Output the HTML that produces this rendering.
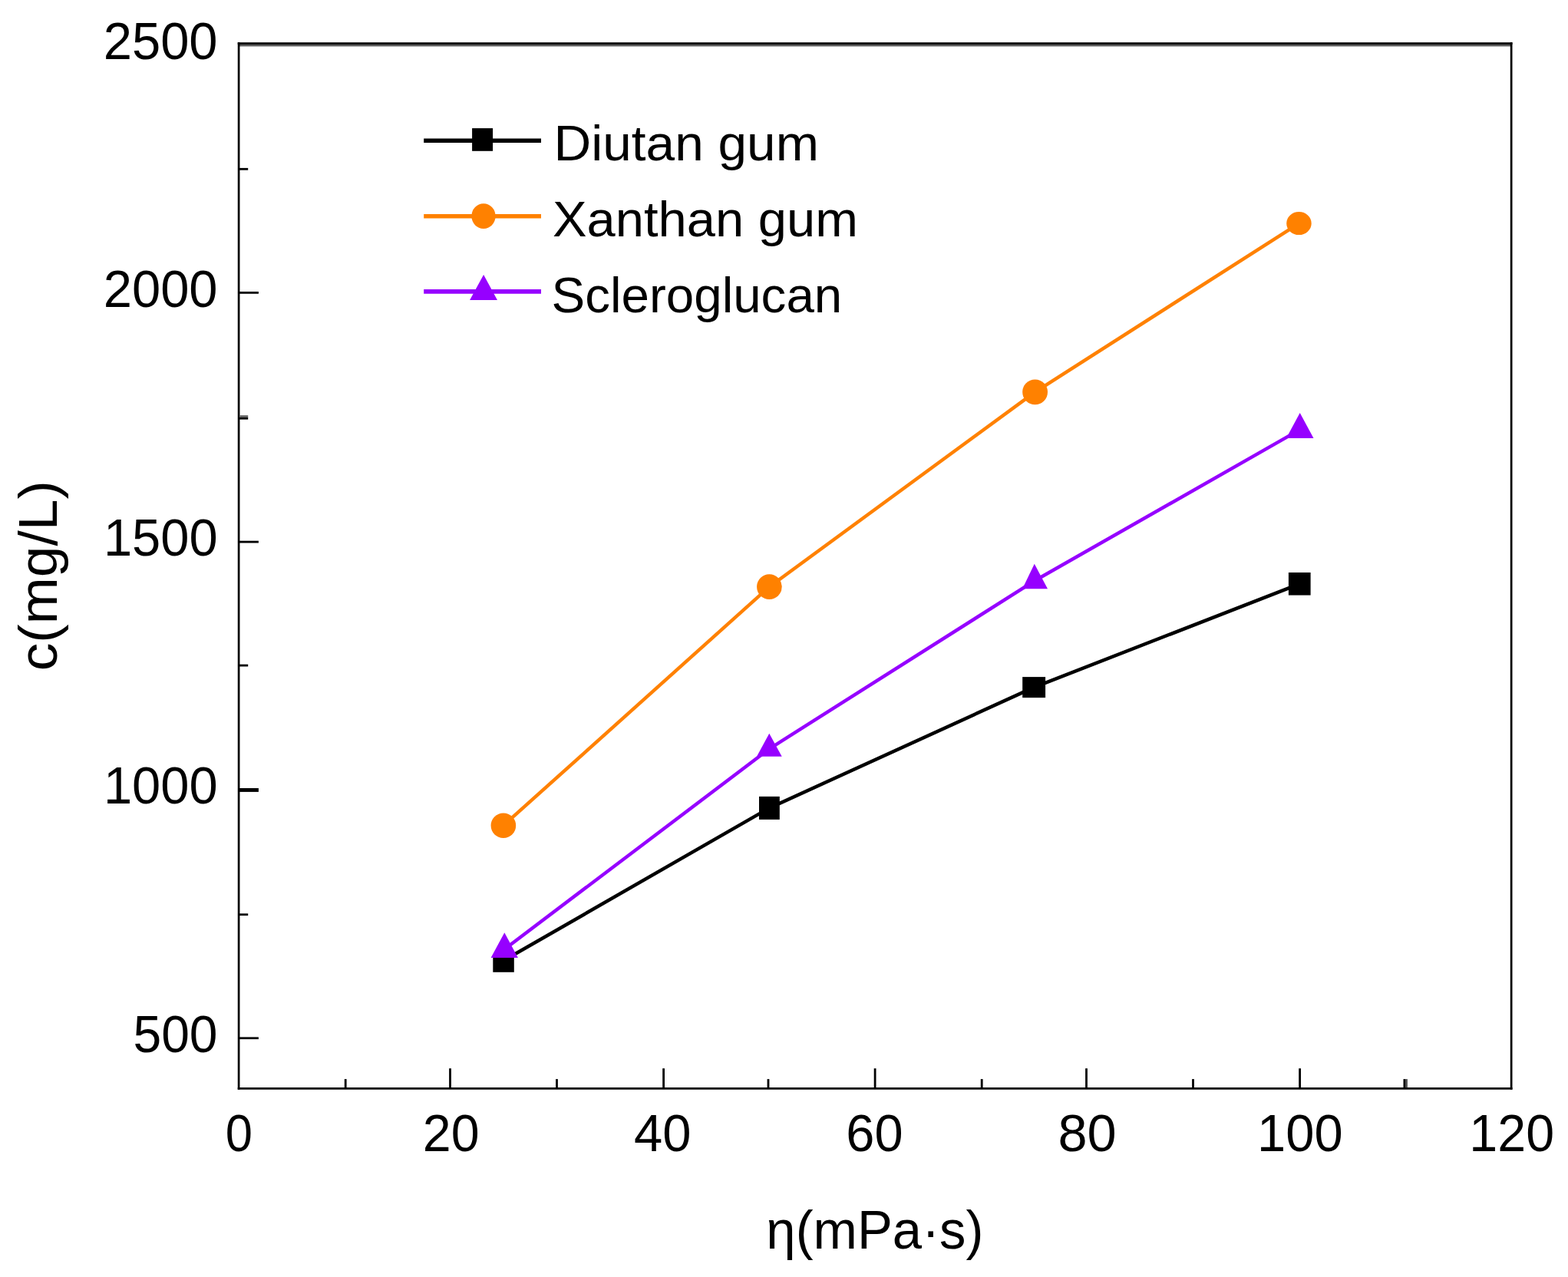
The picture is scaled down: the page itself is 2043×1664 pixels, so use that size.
<!DOCTYPE html>
<html lang="en">
<head>
<meta charset="utf-8">
<title>c (mg/L) versus η (mPa·s)</title>
<style>
html, body { margin: 0; padding: 0; background: #ffffff; }
body { width: 2043px; height: 1664px; overflow: hidden; }
svg { display: block; }
</style>
</head>
<body>
<svg width="2043" height="1664" viewBox="0 0 2043 1664">
<rect x="0" y="0" width="2043" height="1664" fill="#ffffff"/>
<rect x="311.25" y="57.90" width="1657.75" height="2.55" fill="#5a5a5a"/>
<rect x="309.75" y="55.25" width="1660.75" height="2.70" fill="#000"/>
<rect x="309.75" y="1417.05" width="1660.75" height="2.70" fill="#000"/>
<rect x="309.75" y="55.25" width="2.70" height="1364.50" fill="#000"/>
<rect x="1967.80" y="55.25" width="2.70" height="1364.50" fill="#000"/>
<rect x="448.80" y="1406.10" width="2.80" height="11.95" fill="#000"/>
<rect x="585.10" y="1392.20" width="2.80" height="25.85" fill="#000"/>
<rect x="724.10" y="1406.10" width="2.80" height="11.95" fill="#000"/>
<rect x="863.20" y="1392.20" width="2.80" height="25.85" fill="#000"/>
<rect x="999.60" y="1406.10" width="2.80" height="11.95" fill="#000"/>
<rect x="1138.70" y="1392.20" width="2.80" height="25.85" fill="#000"/>
<rect x="1277.80" y="1406.10" width="2.80" height="11.95" fill="#000"/>
<rect x="1414.10" y="1392.20" width="2.80" height="25.85" fill="#000"/>
<rect x="1553.10" y="1406.10" width="2.80" height="11.95" fill="#000"/>
<rect x="1692.20" y="1392.20" width="2.80" height="25.85" fill="#000"/>
<rect x="1831.20" y="1406.10" width="2.70" height="10.95" fill="#505050"/>
<rect x="1828.50" y="1406.10" width="2.80" height="11.95" fill="#000"/>
<rect x="311.45" y="218.90" width="11.75" height="2.80" fill="#000"/>
<rect x="311.45" y="380.00" width="25.45" height="2.80" fill="#000"/>
<rect x="312.45" y="541.20" width="10.75" height="2.60" fill="#606060"/>
<rect x="311.45" y="543.80" width="11.75" height="2.80" fill="#000"/>
<rect x="311.45" y="704.70" width="25.45" height="2.80" fill="#000"/>
<rect x="311.45" y="865.70" width="11.75" height="2.80" fill="#000"/>
<rect x="311.45" y="1027.00" width="25.45" height="4.90" fill="#000"/>
<rect x="311.45" y="1190.35" width="11.75" height="2.75" fill="#000"/>
<rect x="311.45" y="1351.40" width="25.45" height="2.75" fill="#000"/>
<g font-family="'Liberation Sans', sans-serif" fill="#000">
<text x="134.73" y="76.90" font-size="68" textLength="148.88" lengthAdjust="spacingAndGlyphs">2500</text>
<text x="134.73" y="399.50" font-size="68" textLength="148.88" lengthAdjust="spacingAndGlyphs">2000</text>
<text x="134.91" y="724.20" font-size="68" textLength="148.70" lengthAdjust="spacingAndGlyphs">1500</text>
<text x="134.91" y="1047.30" font-size="68" textLength="148.70" lengthAdjust="spacingAndGlyphs">1000</text>
<text x="173.46" y="1370.90" font-size="68" textLength="110.12" lengthAdjust="spacingAndGlyphs">500</text>
<text x="293.72" y="1499.50" font-size="68" textLength="35.25" lengthAdjust="spacingAndGlyphs">0</text>
<text x="550.76" y="1499.50" font-size="68" textLength="73.83" lengthAdjust="spacingAndGlyphs">20</text>
<text x="826.06" y="1499.50" font-size="68" textLength="74.56" lengthAdjust="spacingAndGlyphs">40</text>
<text x="1102.31" y="1499.50" font-size="68" textLength="74.30" lengthAdjust="spacingAndGlyphs">60</text>
<text x="1378.42" y="1499.50" font-size="68" textLength="76.26" lengthAdjust="spacingAndGlyphs">80</text>
<text x="1638.00" y="1499.50" font-size="68" textLength="111.61" lengthAdjust="spacingAndGlyphs">100</text>
<text x="1914.24" y="1499.50" font-size="68" textLength="110.86" lengthAdjust="spacingAndGlyphs">120</text>
</g>
<g font-family="'Liberation Sans', sans-serif" fill="#000">
<text x="998.34" y="1626.90" font-size="70" textLength="283.13" lengthAdjust="spacingAndGlyphs">η(mPa·s)</text>
<g transform="translate(73.9,871.2) rotate(-90)"><text x="-3.11" y="0.00" font-size="70" textLength="248.25" lengthAdjust="spacingAndGlyphs">c(mg/L)</text></g>
</g>
<polyline points="656.0,1251.8 1002.4,1052.9 1347.2,895.6 1693.2,760.8" fill="none" stroke="#000000" stroke-width="4.5" stroke-linejoin="round"/>
<rect x="642.30" y="1245.00" width="27.50" height="21.80" fill="#000000"/>
<rect x="989.00" y="1037.90" width="26.80" height="30.00" fill="#000000"/>
<rect x="1332.20" y="882.10" width="29.90" height="27.00" fill="#000000"/>
<rect x="1678.90" y="746.00" width="28.70" height="29.60" fill="#000000"/>
<polyline points="655.9,1075.7 1002.4,764.7 1348.6,510.9 1692.5,291.1" fill="none" stroke="#ff8100" stroke-width="4.5" stroke-linejoin="round"/>
<ellipse cx="655.90" cy="1075.70" rx="16.30" ry="16.30" fill="#ff8100"/>
<ellipse cx="1002.40" cy="764.65" rx="16.30" ry="16.45" fill="#ff8100"/>
<ellipse cx="1348.60" cy="510.90" rx="16.40" ry="16.30" fill="#ff8100"/>
<ellipse cx="1692.45" cy="291.05" rx="16.25" ry="15.05" fill="#ff8100"/>
<polyline points="657.2,1237.0 1002.4,975.8 1348.5,756.5 1693.7,559.9" fill="none" stroke="#9600ff" stroke-width="4.5" stroke-linejoin="round"/>
<polygon points="657.3,1215.3 674.9,1247.9 639.6,1247.9" fill="#9600ff"/>
<polygon points="1002.3,955.8 1018.7,985.8 986.0,985.8" fill="#9600ff"/>
<polygon points="1347.8,734.8 1365.0,767.3 1332.1,767.3" fill="#9600ff"/>
<polygon points="1693.7,538.0 1711.5,570.9 1675.9,570.9" fill="#9600ff"/>
<line x1="552.2" y1="183.3" x2="705" y2="183.3" stroke="#000000" stroke-width="5.5"/>
<rect x="615.1" y="167.1" width="27" height="29.7" fill="#000000"/>
<line x1="552.2" y1="281.7" x2="705" y2="281.7" stroke="#ff8100" stroke-width="5.5"/>
<ellipse cx="630" cy="281.6" rx="15.6" ry="16.4" fill="#ff8100"/>
<line x1="552.2" y1="379.9" x2="705" y2="379.9" stroke="#9600ff" stroke-width="5.7"/>
<polygon points="630.1,358.1 648,390.9 612.1,390.9" fill="#9600ff"/>
<g font-family="'Liberation Sans', sans-serif" fill="#000">
<text x="721.46" y="208.50" font-size="65" textLength="345.50" lengthAdjust="spacingAndGlyphs">Diutan gum</text>
<text x="720.00" y="308.00" font-size="65" textLength="397.91" lengthAdjust="spacingAndGlyphs">Xanthan gum</text>
<text x="718.53" y="406.50" font-size="65" textLength="378.73" lengthAdjust="spacingAndGlyphs">Scleroglucan</text>
</g>
</svg>
</body>
</html>
